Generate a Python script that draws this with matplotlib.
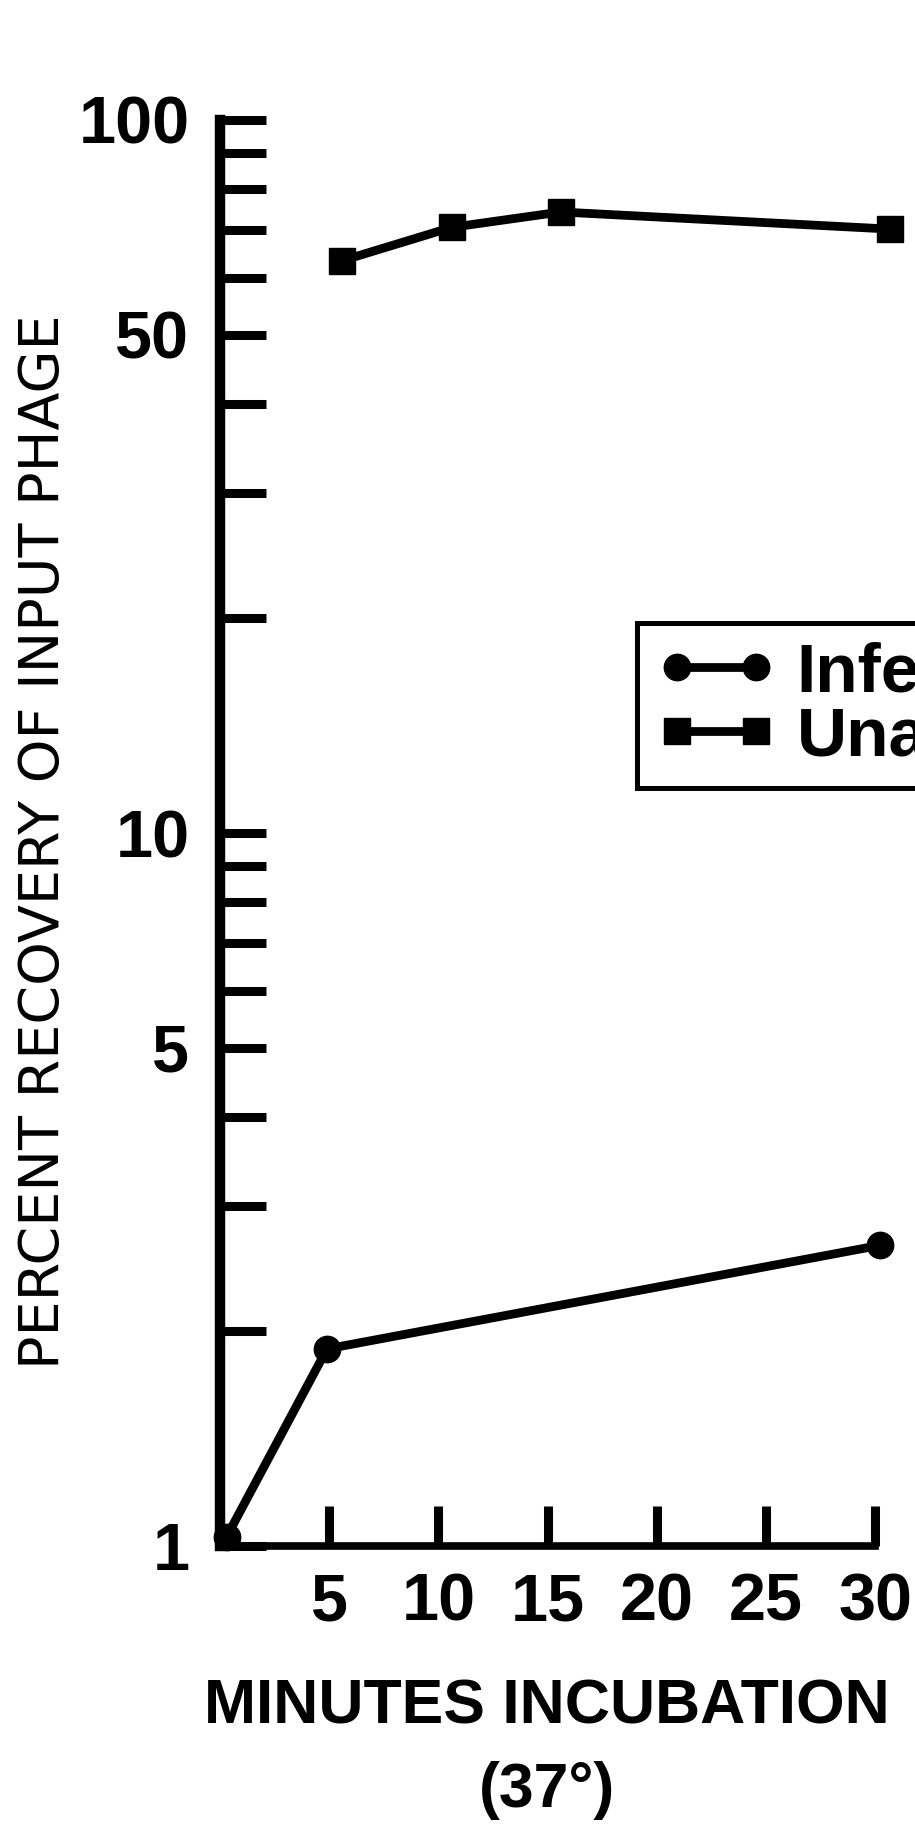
import matplotlib
matplotlib.use("Agg")
import matplotlib.pyplot as plt
from matplotlib import font_manager

# values (y is log scale, percent)
inf_min = [0.3, 4.9, 30.2]
inf_pct = [1.03, 1.89, 2.64]
unads_min = [5.6, 10.6, 15.6, 30.7]
unads_pct = [63.5, 70.7, 74.3, 70.3]

x_ticks = [5, 10, 15, 20, 25, 30]
y_ticks = [1, 2, 3, 4, 5, 6, 7, 8, 9, 10, 20, 30, 40, 50, 60, 70, 80, 90, 100]
y_labeled = [1, 5, 10, 50, 100]

# narrow bold font if there is one, it's closer to the hand lettering
names = {f.name for f in font_manager.fontManager.ttflist}
narrow = "Liberation Sans Narrow" if "Liberation Sans Narrow" in names else "Liberation Sans"
plt.rcParams["font.family"] = [narrow, "DejaVu Sans"]
plt.rcParams["font.weight"] = "bold"

fig = plt.figure(figsize=(9.15, 18.26), dpi=100)
ax = fig.add_axes([220 / 915, 280 / 1826, 695 / 915, 1426 / 1826])
ax.set_yscale("log")
ax.set_xlim(0, 695 / 21.84)
ax.set_ylim(1, 100)

ax.plot(inf_min, inf_pct, color="black", lw=6.3, marker="o", ms=19,
        clip_on=False, label="Infectious")
ax.plot(unads_min, unads_pct, color="black", lw=6.3, marker="s", ms=19,
        clip_on=False, label="Unadsorbed")

ax.set_xticks(x_ticks, labels=[str(v) for v in x_ticks])
ax.set_yticks(y_ticks, labels=[str(v) if v in y_labeled else "" for v in y_ticks])
ax.minorticks_off()
ax.tick_params(axis="y", direction="in", length=33, width=6.5, pad=22, labelsize=48)
ax.tick_params(axis="x", direction="in", length=29, width=6.5, pad=19, labelsize=48)

ax.spines["top"].set_visible(False)
ax.spines["right"].set_visible(False)
ax.spines["left"].set_linewidth(7.5)
ax.spines["bottom"].set_linewidth(5.5)
ax.spines["bottom"].set_bounds(0, 30)

ax.set_xlabel("MINUTES INCUBATION\n(37°)", fontsize=45, fontweight="bold",
              linespacing=1.55)
ax.xaxis.set_label_coords(0.47, -0.092)
ax.set_ylabel("PERCENT RECOVERY OF INPUT PHAGE", fontsize=40,
              fontweight="normal", family="DejaVu Sans")
ax.yaxis.set_label_coords(-0.215, 0.494)

leg = ax.legend(loc="upper left", bbox_to_anchor=(637 / 915, 1 - 623 / 1826),
                bbox_transform=fig.transFigure, fontsize=50, fancybox=False,
                edgecolor="black", framealpha=1, borderaxespad=0,
                handlelength=1.75, handletextpad=0.28, labelspacing=0.0,
                borderpad=0.27, numpoints=2)
leg.get_frame().set_linewidth(3.6)

fig.savefig("out.png", dpi=100)
